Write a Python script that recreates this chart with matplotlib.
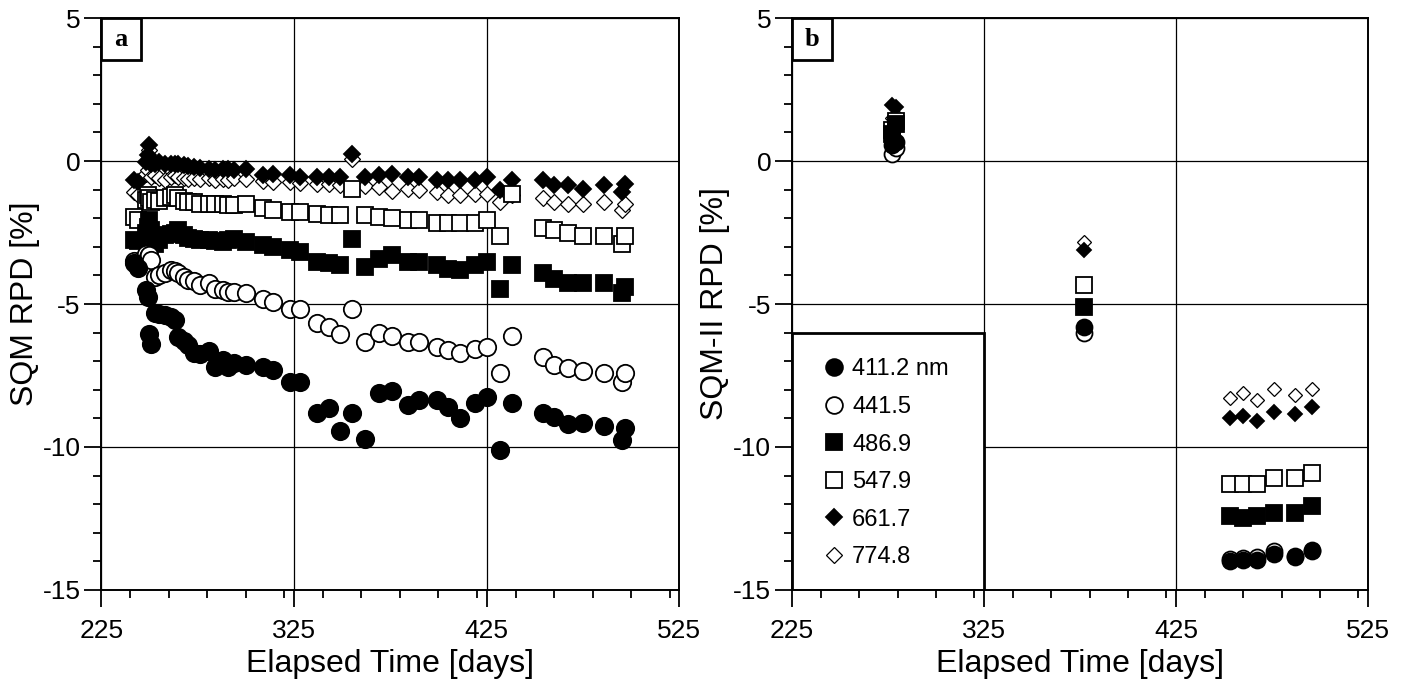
import numpy as np
import matplotlib
matplotlib.use("Agg")
import matplotlib.pyplot as plt
from matplotlib.patches import Rectangle
from matplotlib.ticker import MultipleLocator

plt.rcParams['font.family'] = ['Liberation Sans', 'DejaVu Sans']
plt.rcParams['axes.unicode_minus'] = False

# wavelengths (nm) and marker styles
labels = ['411.2 nm', '441.5', '486.9', '547.9', '661.7', '774.8']

# panel a: SQM relative percent difference vs elapsed time
days_a = [242, 244, 248, 249, 250, 251, 253, 255, 258, 261, 263, 265, 268, 270,
          273, 276, 281, 284, 288, 291, 294, 300, 309, 314, 323, 328, 337, 343,
          349, 355, 362, 369, 376, 384, 390, 399, 405, 411, 419, 425, 432, 438,
          454, 460, 467, 475, 486, 495, 497]
a_411 = [-3.55, -3.75, -4.5, -4.75, -6.05, -6.4, -5.3, -5.35, -5.4, -5.45, -5.55,
         -6.15, -6.3, -6.45, -6.7, -6.75, -6.65, -7.2, -6.95, -7.2, -7.05, -7.15,
         -7.2, -7.3, -7.72, -7.72, -8.8, -8.62, -9.45, -8.8, -9.72, -8.12, -8.05,
         -8.53, -8.36, -8.36, -8.6, -9.0, -8.47, -8.24, -10.1, -8.45, -8.82, -8.94,
         -9.2, -9.17, -9.27, -9.75, -9.35]
a_441 = [-3.5, -3.7, -3.25, -3.35, -3.3, -3.45, -4.05, -4.0, -3.9, -3.82, -3.85,
         -3.9, -4.05, -4.15, -4.2, -4.34, -4.28, -4.46, -4.52, -4.57, -4.57, -4.63,
         -4.81, -4.92, -5.19, -5.19, -5.68, -5.8, -6.05, -5.19, -6.32, -6.03, -6.12,
         -6.32, -6.32, -6.5, -6.61, -6.7, -6.59, -6.5, -7.43, -6.12, -6.84, -7.13,
         -7.25, -7.33, -7.43, -7.72, -7.43]
a_487 = [-2.75, -2.8, -2.5, -2.3, -2.05, -2.4, -2.9, -2.75, -2.6, -2.55, -2.5,
         -2.42, -2.6, -2.7, -2.71, -2.75, -2.77, -2.8, -2.83, -2.75, -2.71, -2.83,
         -2.94, -3.0, -3.12, -3.18, -3.53, -3.58, -3.64, -2.71, -3.7, -3.41, -3.3,
         -3.53, -3.53, -3.64, -3.76, -3.82, -3.64, -3.53, -4.46, -3.64, -3.91, -4.11,
         -4.28, -4.28, -4.28, -4.63, -4.4]
a_548 = [-1.95, -2.07, -1.35, -1.2, -1.3, -1.45, -1.37, -1.4, -1.31, -1.25, -1.2,
         -1.3, -1.4, -1.43, -1.45, -1.49, -1.5, -1.49, -1.52, -1.55, -1.55, -1.49,
         -1.66, -1.7, -1.78, -1.78, -1.84, -1.9, -1.9, -0.97, -1.9, -1.95, -1.98,
         -2.07, -2.07, -2.16, -2.16, -2.16, -2.16, -2.07, -2.63, -1.14, -2.36, -2.42,
         -2.51, -2.63, -2.63, -2.89, -2.63]
a_662 = [-0.67, -0.73, -0.05, 0.2, 0.55, -0.1, -0.09, -0.05, -0.09, -0.09, -0.12,
         -0.09, -0.15, -0.18, -0.21, -0.25, -0.27, -0.3, -0.27, -0.27, -0.3, -0.27,
         -0.5, -0.44, -0.5, -0.56, -0.56, -0.56, -0.56, 0.26, -0.56, -0.5, -0.45,
         -0.56, -0.56, -0.67, -0.67, -0.67, -0.67, -0.56, -1.02, -0.65, -0.65, -0.85,
         -0.85, -0.97, -0.85, -1.08, -0.79]
a_775 = [-1.08, -1.2, -0.44, -0.3, 0.37, -0.56, -0.5, -0.6, -0.67, -0.55, -0.5,
         -0.55, -0.6, -0.62, -0.6, -0.62, -0.6, -0.65, -0.62, -0.65, -0.6, -0.62,
         -0.7, -0.72, -0.75, -0.78, -0.8, -0.82, -0.85, 0.08, -0.88, -0.91, -1.05,
         -0.97, -1.02, -1.08, -1.2, -1.2, -1.14, -1.14, -1.43, -1.2, -1.31, -1.43,
         -1.49, -1.49, -1.43, -1.72, -1.49]

# panel b: SQM-II
days_b = [277, 279, 377, 453, 460, 467, 476, 487, 496]
b_411 = [0.55, 0.65, -5.82, -14.0, -13.95, -13.95, -13.74, -13.86, -13.62]
b_441 = [0.25, 0.45, -6.03, -13.92, -13.89, -13.85, -13.65, -13.8, -13.6]
b_487 = [0.95, 1.3, -5.1, -12.41, -12.49, -12.41, -12.32, -12.32, -12.06]
b_548 = [1.1, 1.4, -4.34, -11.29, -11.29, -11.29, -11.09, -11.09, -10.92]
b_662 = [1.95, 1.9, -3.1, -9.0, -8.92, -9.08, -8.77, -8.85, -8.61]
b_775 = [1.5, 1.6, -2.83, -8.3, -8.12, -8.36, -7.98, -8.18, -7.98]

# marker, facecolor, size
styles = [('o', 'black', 12.5), ('o', 'white', 12.5), ('s', 'black', 12),
          ('s', 'white', 12), ('D', 'black', 8), ('D', 'white', 8)]

fig = plt.figure(figsize=(14.07, 6.82), dpi=100)
ax_a = fig.add_axes([0.072, 0.1349, 0.4108, 0.8387])
ax_b = fig.add_axes([0.5629, 0.1349, 0.4094, 0.8387])


def draw(ax, days, series, scale):
    lines = []
    # reverse order so the short wavelengths end up on top
    for vals, (m, fc, ms), lab in reversed(list(zip(series, styles, labels))):
        ew = 0.9 if m == 'D' and fc == 'white' else 1.3
        ln, = ax.plot(days, vals, linestyle='none', marker=m, ms=ms * scale,
                      mfc=fc, mec='black', mew=ew, label=lab, zorder=4)
        lines.append(ln)
    return lines[::-1]


def setup(ax, ylabel, tag):
    ax.set_xlim(225, 525)
    ax.set_ylim(-15, 5)
    ax.set_xticks([225, 325, 425, 525])
    ax.set_yticks([5, 0, -5, -10, -15])
    ax.xaxis.set_minor_locator(MultipleLocator(20))
    ax.yaxis.set_minor_locator(MultipleLocator(1))
    ax.tick_params(which='major', direction='out', length=12, width=1.3,
                   labelsize=19, top=False, right=False)
    ax.tick_params(axis='x', which='major', pad=9)
    ax.tick_params(axis='y', which='major', pad=3)
    ax.tick_params(which='minor', direction='out', length=6, width=1.3,
                   top=False, right=False)
    ax.grid(True, which='major', color='black', linewidth=0.9)
    for s in ax.spines.values():
        s.set_linewidth(1.4)
    ax.set_xlabel('Elapsed Time [days]', fontsize=23, labelpad=4)
    ax.set_ylabel(ylabel, fontsize=23, labelpad=2)
    ax.add_patch(Rectangle((225, 5), 20.6, -1.47, facecolor='white',
                           edgecolor='black', linewidth=2, zorder=3))
    ax.text(235.3, 4.265, tag, ha='center', va='center', fontsize=19,
            fontweight='bold', family='Liberation Serif', zorder=5)


draw(ax_a, days_a, [a_411, a_441, a_487, a_548, a_662, a_775], 1.0)
setup(ax_a, 'SQM RPD [%]', 'a')

handles = draw(ax_b, days_b, [b_411, b_441, b_487, b_548, b_662, b_775], 0.92)
setup(ax_b, 'SQM-II RPD [%]', 'b')

# legend panel in the lower left of panel b
ax_b.add_patch(Rectangle((225, -15), 100, 9.0, facecolor='white',
                         edgecolor='black', linewidth=2, zorder=2))
ax_b.legend(handles=handles, loc='upper left', bbox_to_anchor=(0.0573, 0.405),
            frameon=False, fontsize=17, handlelength=0.8, handletextpad=0.35,
            labelspacing=0.66, borderpad=0, borderaxespad=0, markerscale=1.05)

fig.savefig('out.png', dpi=100)
